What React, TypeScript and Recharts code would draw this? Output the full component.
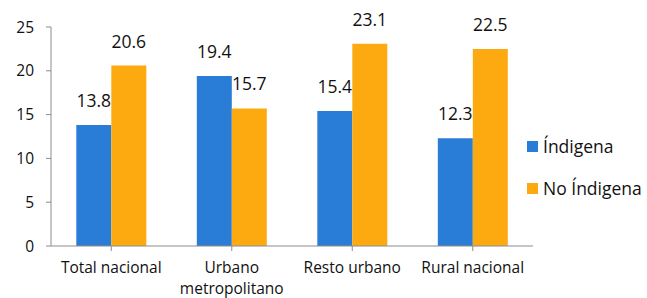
import React from "react";
import { BarChart, Bar, XAxis, YAxis, LabelList } from "recharts";

const categories = ["Total nacional", "Urbano metropolitano", "Resto urbano", "Rural nacional"];
const indigena = [13.8, 19.4, 15.4, 12.3];
const noIndigena = [20.6, 15.7, 23.1, 22.5];
const yTicks = [0, 5, 10, 15, 20, 25];
const seriesNames = ["Índigena", "No Índigena"];

const data = categories.map((c, i) => ({ name: c, ind: indigena[i], noind: noIndigena[i] }));

const FONT = "'Open Sans', sans-serif";
const BLUE = "#2A7DD6";
const ORANGE = "#FDAA10";
const AXIS = "#8C8C8C";

const XTick = (props: any) => {
  const { x, y, payload } = props;
  const label: string = payload.value;
  const lines = label === "Urbano metropolitano" ? ["Urbano", "metropolitano"] : [label];
  return (
    <text x={x} y={y} textAnchor="middle" fontFamily={FONT} fontSize={15.5} fill="#111">
      {lines.map((l, i) => (
        <tspan key={i} x={x} dy={i === 0 ? 20 : 21}>
          {l}
        </tspan>
      ))}
    </text>
  );
};

const LegendBox = () => {
  const colors = [BLUE, ORANGE];
  return (
    <div style={{ position: "absolute", left: 527, top: 125, fontFamily: FONT }}>
      {seriesNames.map((label, i) => (
        <div key={label} style={{ display: "flex", alignItems: "center", height: 42 }}>
          <div style={{ width: 11, height: 11, background: colors[i], marginRight: 5 }} />
          <span style={{ fontSize: 17.5, color: "#111", lineHeight: "20px" }}>{label}</span>
        </div>
      ))}
    </div>
  );
};

export default function App() {
  return (
    <div style={{ position: "absolute", left: 0, top: 0, width: 647, height: 298, background: "#fff" }}>
      <BarChart
        width={647}
        height={298}
        data={data}
        margin={{ top: 27, right: 114, left: 0, bottom: 0 }}
        barCategoryGap="21%"
        barGap={0}
      >
        <XAxis
          dataKey="name"
          height={52}
          tick={<XTick />}
          tickLine={{ stroke: AXIS }}
          axisLine={{ stroke: AXIS }}
          tickSize={5}
          interval={0}
        />
        <YAxis
          width={51}
          domain={[0, 25]}
          ticks={yTicks}
          interval={0}
          tick={{ fontFamily: FONT, fontSize: 15.5, fill: "#111" }}
          tickLine={{ stroke: AXIS }}
          axisLine={{ stroke: AXIS }}
          tickSize={5}
          tickMargin={12}
        />
        <Bar dataKey="ind" name={seriesNames[0]} fill={BLUE} isAnimationActive={false}>
          <LabelList dataKey="ind" position="top" offset={18} fontFamily={FONT} fontSize={17.5} fill="#111" />
        </Bar>
        <Bar dataKey="noind" name={seriesNames[1]} fill={ORANGE} isAnimationActive={false}>
          <LabelList dataKey="noind" position="top" offset={18} fontFamily={FONT} fontSize={17.5} fill="#111" />
        </Bar>
      </BarChart>
      <LegendBox />
    </div>
  );
}
